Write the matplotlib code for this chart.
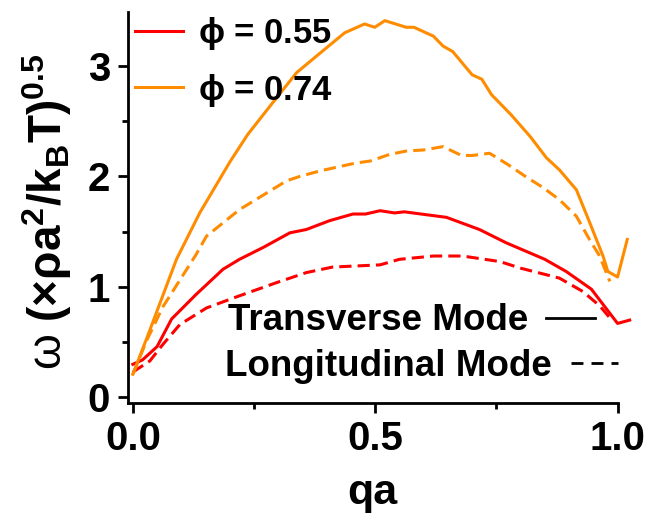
import matplotlib
matplotlib.use("Agg")
import matplotlib.pyplot as plt
from matplotlib.lines import Line2D

plt.rcParams["font.family"] = ["Liberation Sans", "DejaVu Sans"]
plt.rcParams["font.weight"] = "bold"
plt.rcParams["mathtext.fontset"] = "custom"
plt.rcParams["mathtext.rm"] = "Liberation Sans:weight=normal"
plt.rcParams["mathtext.bf"] = "Liberation Sans:bold"
plt.rcParams["mathtext.it"] = "Liberation Sans:bold"
plt.rcParams["mathtext.default"] = "bf"

# phi = 0.74, transverse
qa_t74 = [0.0, 0.03, 0.06, 0.09, 0.138, 0.2, 0.237, 0.289, 0.338, 0.379, 0.437,
          0.478, 0.499, 0.52, 0.564, 0.58, 0.62, 0.64, 0.66, 0.70, 0.72, 0.74,
          0.78, 0.82, 0.853, 0.88, 0.915, 0.94, 0.97, 0.98, 1.0, 1.02]
w_t74 = [0.21, 0.55, 0.90, 1.25, 1.67, 2.13, 2.38, 2.67, 2.94, 3.09, 3.30,
         3.38, 3.35, 3.41, 3.35, 3.35, 3.27, 3.18, 3.13, 2.92, 2.88, 2.74,
         2.56, 2.36, 2.17, 2.06, 1.88, 1.61, 1.28, 1.14, 1.09, 1.43]

# phi = 0.74, longitudinal
qa_l74 = [0.0, 0.029, 0.062, 0.13, 0.152, 0.22, 0.317, 0.344, 0.386, 0.458, 0.49,
          0.53, 0.564, 0.60, 0.64, 0.678, 0.70, 0.736, 0.773, 0.81, 0.846, 0.88,
          0.915, 0.942, 0.963, 0.984]
w_l74 = [0.21, 0.52, 0.82, 1.29, 1.46, 1.70, 1.96, 2.00, 2.05, 2.12, 2.14,
         2.20, 2.23, 2.24, 2.27, 2.19, 2.19, 2.21, 2.11, 2.00, 1.90, 1.79,
         1.64, 1.43, 1.28, 1.05]

# phi = 0.55, transverse
qa_t55 = [0.0, 0.02, 0.05, 0.08, 0.13, 0.186, 0.22, 0.27, 0.324, 0.358, 0.406,
          0.454, 0.48, 0.51, 0.54, 0.56, 0.647, 0.715, 0.77, 0.85, 0.894, 0.946,
          1.0, 1.025]
w_t55 = [0.30, 0.34, 0.46, 0.71, 0.93, 1.16, 1.25, 1.36, 1.49, 1.52, 1.60,
         1.66, 1.66, 1.69, 1.67, 1.68, 1.63, 1.52, 1.40, 1.25, 1.14, 0.98,
         0.67, 0.70]

# phi = 0.55, longitudinal
qa_l55 = [0.0, 0.035, 0.062, 0.097, 0.152, 0.22, 0.297, 0.358, 0.412, 0.51, 0.55,
          0.62, 0.68, 0.757, 0.80, 0.88, 0.928, 0.963, 0.99]
w_l55 = [0.23, 0.33, 0.48, 0.66, 0.81, 0.92, 1.04, 1.13, 1.18, 1.20, 1.25,
         1.28, 1.28, 1.23, 1.17, 1.08, 0.96, 0.83, 0.69]

RED = "#FF0000"
ORANGE = "#FF8C00"
DASH = (0, (4, 2))
LEG_DASH = (0, (4.3, 2.9))

W, H = 653, 514
fig = plt.figure(figsize=(W / 100, H / 100), dpi=100)
ax = fig.add_axes([0.196, 0.216, 0.772, 0.761])

ax.plot(qa_t55, w_t55, color=RED, lw=2.2, clip_on=False)
ax.plot(qa_l55, w_l55, color=RED, lw=2.2, ls=DASH, clip_on=False)
ax.plot(qa_t74, w_t74, color=ORANGE, lw=2.2, clip_on=False)
ax.plot(qa_l74, w_l74, color=ORANGE, lw=2.2, ls=DASH, clip_on=False)

ax.set_xlim(-0.01, 1.03)
ax.set_ylim(-0.05, 3.49)
ax.spines["bottom"].set_bounds(-0.01, 1.0)
ax.spines[["top", "right"]].set_visible(False)
for s in ["left", "bottom"]:
    ax.spines[s].set_linewidth(2)

ax.set_xticks([0.0, 0.5, 1.0])
ax.set_xticklabels(["0.0", "0.5", "1.0"])
ax.set_xticks([0.25, 0.75], minor=True)
ax.set_yticks([0, 1, 2, 3])
ax.set_yticks([0.5, 1.5, 2.5], minor=True)
ax.tick_params(which="major", length=7, width=2, labelsize=29, pad=6)
ax.tick_params(which="minor", length=4, width=2)
ax.tick_params(axis="x", which="major", pad=5)

ax.set_xlabel("qa", fontsize=31, fontweight="bold", va="top")
ax.xaxis.set_label_coords(0.484, -0.18)
ax.set_ylabel(r"$\mathrm{\omega}$ (×ρa$^{2}$/k$_{B}$T)$^{0.5}$",
              fontsize=33, fontweight="bold")
ax.yaxis.set_label_coords(-0.107, 0.488)

handles = [Line2D([], [], color=RED, lw=2.2), Line2D([], [], color=ORANGE, lw=2.2)]
leg = fig.legend(handles, [r"$\mathregular{\phi}$ = 0.55", r"$\mathregular{\phi}$ = 0.74"],
                 loc="center left", bbox_to_anchor=(135 / W, 1 - 62 / H),
                 bbox_transform=fig.transFigure, frameon=False,
                 fontsize=25, handlelength=1.38, handletextpad=0.43, labelspacing=0.55,
                 borderpad=0, borderaxespad=0)

# mode key: text first, sample line after it
for label, ls, xr, yc, hl, tp in [
    ("Transverse Mode", "-", 595, 321, 1.33, 0.47),
    ("Longitudinal Mode", LEG_DASH, 618, 366, 1.27, 0.53),
]:
    fig.legend([Line2D([], [], color="black", lw=2, ls=ls)], [label],
               loc="center right", bbox_to_anchor=(xr / W, 1 - yc / H),
               bbox_transform=fig.transFigure, frameon=False, fontsize=26.5,
               handlelength=hl, handletextpad=tp, markerfirst=False,
               borderpad=0, borderaxespad=0)

fig.savefig("out.png", dpi=100)
